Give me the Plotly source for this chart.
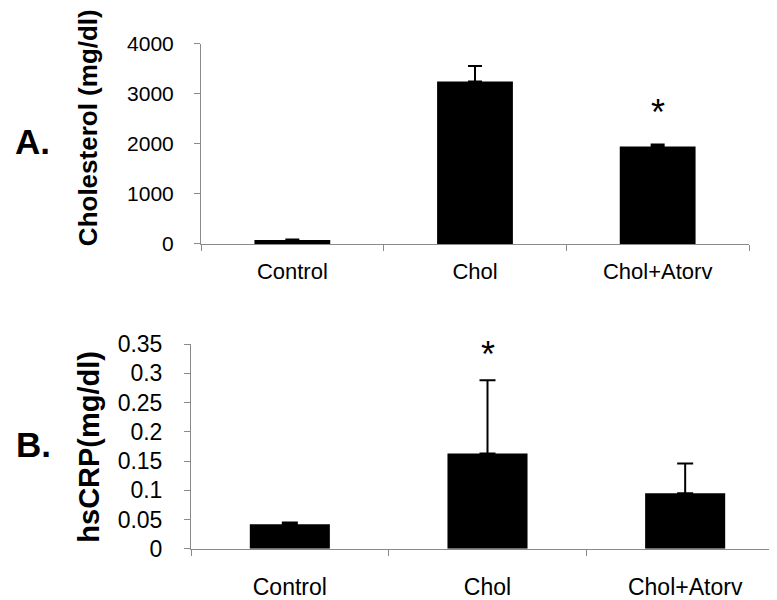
import plotly.graph_objects as go

categories = ["Control", "Chol", "Chol+Atorv"]
chol_values = [80, 3250, 1950]
chol_err = [10, 310, 40]
crp_values = [0.042, 0.163, 0.095]
crp_err = [0.003, 0.125, 0.051]
chol_ticks = [0, 1000, 2000, 3000, 4000]
crp_ticks = [0, 0.05, 0.1, 0.15, 0.2, 0.25, 0.3, 0.35]
crp_ticktext = ["0", "0.05", "0.1", "0.15", "0.2", "0.25", "0.3", "0.35"]

W, H = 777, 600
FONT = "Arial, Liberation Sans, Helvetica, sans-serif"

fig = go.Figure()
fig.add_trace(go.Bar(
    x=categories, y=chol_values, width=0.415,
    marker=dict(color="black", line=dict(width=0)),
    error_y=dict(type="data", symmetric=False, array=chol_err,
                 arrayminus=[0, 0, 0], color="black", thickness=2, width=7),
    xaxis="x", yaxis="y", showlegend=False))
fig.add_trace(go.Bar(
    x=categories, y=crp_values, width=0.405,
    marker=dict(color="black", line=dict(width=0)),
    error_y=dict(type="data", symmetric=False, array=crp_err,
                 arrayminus=[0, 0, 0], color="black", thickness=2, width=8),
    xaxis="x2", yaxis="y2", showlegend=False))

axcol = "#8a8a8a"
fig.update_layout(
    width=W, height=H,
    margin=dict(l=0, r=0, t=0, b=0),
    paper_bgcolor="white", plot_bgcolor="white",
    font=dict(family=FONT, color="black"),
    xaxis=dict(domain=[193 / W, 741 / W], anchor="y", type="category",
               showline=True, linecolor=axcol, linewidth=1,
               ticks="outside", tickson="boundaries", ticklen=6, tickcolor=axcol,
               tickfont=dict(size=22), ticklabelstandoff=8,
               showgrid=False, zeroline=False),
    yaxis=dict(domain=[1 - 233 / H, 1 - 24 / H], anchor="x", range=[0, 4000],
               tickvals=chol_ticks, showline=True, linecolor=axcol, linewidth=1,
               ticks="outside", ticklen=6, tickcolor=axcol,
               tickfont=dict(size=21), ticklabelstandoff=16,
               showgrid=False, zeroline=False),
    xaxis2=dict(domain=[183 / W, 776 / W], anchor="y2", type="category",
                showline=True, linecolor=axcol, linewidth=1,
                ticks="outside", tickson="boundaries", ticklen=6, tickcolor=axcol,
                tickfont=dict(size=23), ticklabelstandoff=18,
                showgrid=False, zeroline=False),
    yaxis2=dict(domain=[1 - 551.7 / H, 1 - 337.7 / H], anchor="x2", range=[0, 0.35],
                tickvals=crp_ticks, ticktext=crp_ticktext,
                showline=True, linecolor=axcol, linewidth=1,
                ticks="outside", ticklen=6, tickcolor=axcol,
                tickfont=dict(size=23), ticklabelstandoff=17,
                showgrid=False, zeroline=False),
)

annotations = [
    dict(text="<b>A.</b>", x=24 / W, y=1 - 126 / H, xref="paper", yref="paper",
         showarrow=False, font=dict(size=35), xanchor="center", yanchor="middle"),
    dict(text="<b>B.</b>", x=25 / W, y=1 - 443 / H, xref="paper", yref="paper",
         showarrow=False, font=dict(size=35), xanchor="center", yanchor="middle"),
    dict(text="<b>Cholesterol (mg/dl)</b>", x=80 / W, y=1 - 112 / H,
         xref="paper", yref="paper", textangle=-90, showarrow=False,
         font=dict(size=26), xanchor="center", yanchor="middle"),
    dict(text="<b>hsCRP(mg/dl)</b>", x=81 / W, y=1 - 445 / H,
         xref="paper", yref="paper", textangle=-90, showarrow=False,
         font=dict(size=29), xanchor="center", yanchor="middle"),
    dict(text="*", x="Chol+Atorv", y=2410, xref="x", yref="y", showarrow=False,
         font=dict(size=36), xanchor="center", yanchor="middle", yshift=11),
    dict(text="*", x="Chol", y=0.332, xref="x2", yref="y2", showarrow=False,
         font=dict(size=36), xanchor="center", yanchor="middle", yshift=0),
]
fig.update_layout(annotations=annotations)

fig.write_html("out.html")
